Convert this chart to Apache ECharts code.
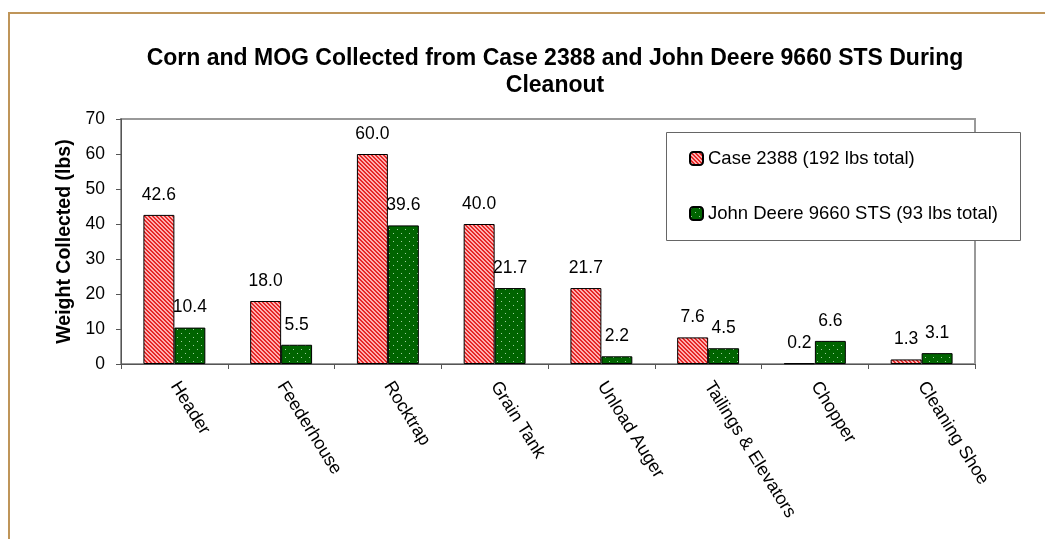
<!DOCTYPE html>
<html>
<head>
<meta charset="utf-8">
<script src="https://cdn.jsdelivr.net/npm/echarts@6/dist/echarts.min.js"></script>
<style>html,body{margin:0;padding:0;background:#fff;}#c{width:1045px;height:539px;}</style>
</head>
<body>
<div id="c"></div>
<script>
var categories = ['Header','Feederhouse','Rocktrap','Grain Tank','Unload Auger','Tailings & Elevators','Chopper','Cleaning Shoe'];
var caseValues = [42.6, 18.0, 60.0, 40.0, 21.7, 7.6, 0.2, 1.3];
var deereValues = [10.4, 5.5, 39.6, 21.7, 2.2, 4.5, 6.6, 3.1];
var seriesNames = ['Case 2388 (192 lbs total)', 'John Deere 9660 STS (93 lbs total)'];
var yTicks = [0, 10, 20, 30, 40, 50, 60, 70];

function redPattern() {
  var c = document.createElement('canvas');
  c.width = 4; c.height = 4;
  var g = c.getContext('2d');
  g.fillStyle = '#ffb0b0';
  g.fillRect(0, 0, 4, 4);
  g.fillStyle = '#e62828';
  for (var i = 0; i < 4; i++) {
    g.fillRect(i, i, 1, 1);
    g.fillRect((i + 1) % 4, i, 1, 1);
  }
  return c;
}
function greenPattern() {
  var c = document.createElement('canvas');
  c.width = 8; c.height = 8;
  var g = c.getContext('2d');
  g.fillStyle = '#006400';
  g.fillRect(0, 0, 8, 8);
  g.fillStyle = '#9fd09f';
  g.fillRect(1, 1, 1, 1);
  g.fillRect(5, 5, 1, 1);
  return c;
}

var chart = echarts.init(document.getElementById('c'), null, {renderer: 'canvas'});
var font = '"Liberation Sans", Arial, sans-serif';
var lbl = {show: true, position: 'top', distance: 11, color: '#000', fontSize: 17.5, fontFamily: font,
  formatter: function (p) { return p.value.toFixed(1); }};

chart.setOption({
  animation: false,
  backgroundColor: '#fff',
  textStyle: {fontFamily: font},
  title: {
    text: 'Corn and MOG Collected from Case 2388 and John Deere 9660 STS During\nCleanout',
    left: 550, top: 40, textAlign: 'center',
    textStyle: {fontSize: 23, fontWeight: 'bold', color: '#000', lineHeight: 27, fontFamily: font}
  },
  graphic: [
    {type: 'rect', shape: {x: 9, y: 13, width: 1100, height: 600}, style: {fill: 'none', stroke: '#bf9559', lineWidth: 2}, z: 0},
    {type: 'rect', shape: {x: 666.5, y: 132.5, width: 354, height: 108}, style: {fill: '#fff', stroke: '#666', lineWidth: 1}, z: 5}
  ],
  legend: {
    orient: 'vertical', left: 689, top: 149,
    padding: [0, 0, 0, 0], itemGap: 36,
    itemWidth: 13, itemHeight: 13,
    textStyle: {fontSize: 18.5, color: '#000', fontFamily: font, padding: [0, 0, 0, 0]},
    data: seriesNames, z: 10
  },
  grid: {left: 121, right: 70, top: 119, bottom: 175, show: true, borderColor: '#999', borderWidth: 2},
  xAxis: {
    type: 'category', data: categories,
    axisLine: {lineStyle: {color: '#555', width: 1}},
    axisTick: {show: true, length: 5, lineStyle: {color: '#555'}},
    axisLabel: {rotate: -58, margin: 19, fontSize: 18, color: '#000', fontFamily: font, interval: 0}
  },
  yAxis: {
    type: 'value', min: 0, max: 70, interval: 10,
    name: 'Weight Collected (lbs)', nameLocation: 'middle', nameGap: 46, nameRotate: 90,
    nameTextStyle: {fontSize: 19.5, fontWeight: 'bold', color: '#000', fontFamily: font},
    axisLine: {show: true, lineStyle: {color: '#555', width: 1}},
    axisTick: {show: true, length: 5, lineStyle: {color: '#555'}},
    splitLine: {show: false},
    axisLabel: {fontSize: 17.5, color: '#000', fontFamily: font, margin: 16,
      formatter: function (v) { return yTicks.indexOf(v) >= 0 ? String(v) : ''; }}
  },
  series: [
    {name: seriesNames[0], type: 'bar', data: caseValues, barGap: '0%', barCategoryGap: '42%',
      itemStyle: {color: {image: redPattern(), repeat: 'repeat'}, borderColor: '#000', borderWidth: 1},
      label: lbl},
    {name: seriesNames[1], type: 'bar', data: deereValues,
      itemStyle: {color: {image: greenPattern(), repeat: 'repeat'}, borderColor: '#000', borderWidth: 1},
      label: lbl}
  ]
});
</script>
</body>
</html>
